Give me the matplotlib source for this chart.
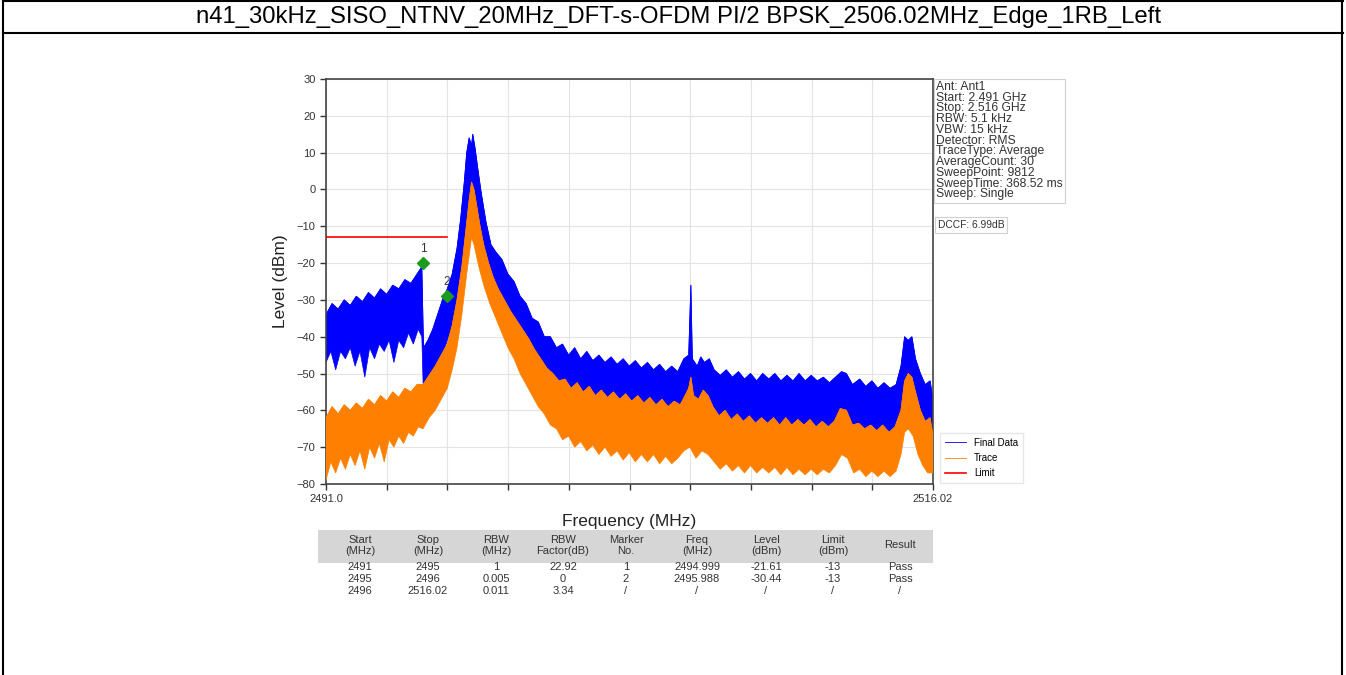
import matplotlib
matplotlib.use('Agg')
import matplotlib.pyplot as plt
from matplotlib.lines import Line2D
import numpy as np

plt.rcParams['font.family'] = ['Liberation Sans', 'DejaVu Sans']

W, H = 1346, 675

TITLE = 'n41_30kHz_SISO_NTNV_20MHz_DFT-s-OFDM PI/2 BPSK_2506.02MHz_Edge_1RB_Left'

# spectrum envelopes, (MHz, dBm) pairs
final_top = [
    (2491.0, -34), (2491.25, -31), (2491.5, -32.5), (2491.75, -30), (2492.0, -31.5),
    (2492.25, -29), (2492.5, -30.5), (2492.75, -28), (2493.0, -29.5), (2493.25, -27),
    (2493.5, -28.5), (2493.75, -26), (2494.0, -27), (2494.25, -24.5), (2494.5, -25.5),
    (2494.75, -23), (2494.95, -21), (2495.02, -43), (2495.2, -41), (2495.4, -38),
    (2495.6, -34), (2495.8, -30), (2496.0, -27), (2496.2, -23), (2496.4, -16),
    (2496.55, -8), (2496.7, 2), (2496.8, 10), (2496.9, 14), (2497.0, 12),
    (2497.05, 15), (2497.15, 11), (2497.25, 6), (2497.4, -1), (2497.6, -9),
    (2497.8, -15), (2498.0, -17), (2498.25, -19), (2498.5, -23), (2498.75, -25),
    (2499.0, -29), (2499.25, -31), (2499.5, -35), (2499.75, -36), (2500.0, -40),
    (2500.25, -40), (2500.5, -43), (2500.75, -42), (2501.0, -45), (2501.25, -43),
    (2501.5, -46), (2501.75, -44), (2502.0, -46.5), (2502.25, -45), (2502.5, -47),
    (2502.75, -45.5), (2503.0, -47.5), (2503.25, -46), (2503.5, -48), (2503.75, -46.5),
    (2504.0, -48.5), (2504.25, -47), (2504.5, -49), (2504.75, -47.5), (2505.0, -49.5),
    (2505.25, -48), (2505.5, -49.5), (2505.75, -46), (2505.95, -45), (2506.04, -26),
    (2506.1, -46), (2506.3, -48), (2506.45, -45.5), (2506.6, -47), (2506.8, -46),
    (2507.0, -49), (2507.25, -50.5), (2507.5, -49), (2507.75, -51), (2508.0, -49.5),
    (2508.25, -51.5), (2508.5, -50), (2508.75, -52), (2509.0, -50), (2509.25, -51.5),
    (2509.5, -50), (2509.75, -52), (2510.0, -50.5), (2510.25, -52), (2510.5, -50),
    (2510.75, -52), (2511.0, -50.5), (2511.25, -52), (2511.5, -51), (2511.75, -52.5),
    (2512.0, -51), (2512.25, -49.5), (2512.45, -50), (2512.7, -53), (2513.0, -51.5),
    (2513.25, -53.5), (2513.5, -52), (2513.75, -54), (2514.0, -52.5), (2514.25, -54),
    (2514.5, -53), (2514.7, -48), (2514.85, -40), (2515.0, -41), (2515.15, -40),
    (2515.3, -46), (2515.5, -50), (2515.7, -53), (2515.9, -52), (2516.02, -57)]

final_bottom = [
    (2491.0, -47), (2491.2, -44), (2491.4, -49), (2491.6, -44), (2491.8, -46),
    (2492.0, -43), (2492.2, -48), (2492.4, -44), (2492.6, -51), (2492.8, -43),
    (2493.0, -46), (2493.2, -42), (2493.4, -44), (2493.6, -41), (2493.8, -47),
    (2494.0, -41), (2494.2, -43), (2494.4, -39), (2494.6, -42), (2494.8, -38),
    (2494.95, -40), (2495.02, -57), (2495.2, -55), (2495.4, -52), (2495.6, -49),
    (2495.8, -45), (2496.0, -41), (2496.2, -37), (2496.4, -31), (2496.6, -22),
    (2496.8, -10), (2497.0, -4), (2497.2, -8), (2497.4, -15), (2497.6, -20),
    (2497.8, -25), (2498.0, -28), (2498.25, -31), (2498.5, -33), (2498.75, -36),
    (2499.0, -39), (2499.25, -41), (2499.5, -44), (2499.75, -46), (2500.0, -48),
    (2500.25, -51), (2500.5, -52), (2500.75, -55), (2501.0, -55), (2501.25, -57),
    (2501.5, -56.5), (2501.75, -59), (2502.0, -57.5), (2502.25, -60), (2502.5, -58),
    (2502.75, -60.5), (2503.0, -58.5), (2503.25, -61), (2503.5, -59), (2503.75, -61.5),
    (2504.0, -59.5), (2504.25, -62), (2504.5, -60), (2504.75, -62), (2505.0, -60.5),
    (2505.25, -62.5), (2505.5, -61), (2505.75, -59), (2506.0, -57), (2506.25, -60),
    (2506.5, -58), (2506.75, -59), (2507.0, -61), (2507.25, -63), (2507.5, -61.5),
    (2507.75, -63.5), (2508.0, -62), (2508.25, -64), (2508.5, -62), (2508.75, -64),
    (2509.0, -62.5), (2509.25, -64.5), (2509.5, -62.5), (2509.75, -64.5), (2510.0, -63),
    (2510.25, -65), (2510.5, -63), (2510.75, -65), (2511.0, -63), (2511.25, -65),
    (2511.5, -63), (2511.75, -64.5), (2512.0, -62.5), (2512.25, -60), (2512.5, -61),
    (2512.75, -64.5), (2513.0, -63.5), (2513.25, -65.5), (2513.5, -64), (2513.75, -66),
    (2514.0, -64.5), (2514.25, -66), (2514.5, -65), (2514.7, -60), (2514.85, -54),
    (2515.0, -55), (2515.2, -54), (2515.4, -60), (2515.6, -64), (2515.8, -66),
    (2516.02, -67)]

trace_top = [
    (2491.0, -62), (2491.25, -59), (2491.5, -61), (2491.75, -58.5), (2492.0, -60),
    (2492.25, -58), (2492.5, -59.5), (2492.75, -57), (2493.0, -58.5), (2493.25, -56),
    (2493.5, -57.5), (2493.75, -55), (2494.0, -56.5), (2494.25, -54), (2494.5, -55),
    (2494.75, -53), (2495.0, -53), (2495.25, -50.5), (2495.5, -48), (2495.75, -45),
    (2496.0, -42), (2496.2, -37), (2496.4, -30), (2496.6, -21), (2496.75, -12),
    (2496.9, -3), (2497.0, 2), (2497.1, 0), (2497.2, -4), (2497.35, -10),
    (2497.5, -15), (2497.7, -20), (2497.9, -24), (2498.1, -27), (2498.35, -30),
    (2498.6, -33), (2498.85, -35.5), (2499.1, -38), (2499.35, -40.5), (2499.6, -43.5),
    (2499.85, -46), (2500.1, -48.5), (2500.35, -50), (2500.6, -52), (2500.85, -51.5),
    (2501.1, -54), (2501.35, -52.5), (2501.6, -55), (2501.85, -53.5), (2502.1, -56),
    (2502.35, -54.5), (2502.6, -56.5), (2502.85, -55), (2503.1, -57), (2503.35, -55.5),
    (2503.6, -57.5), (2503.85, -56), (2504.1, -58), (2504.35, -56.5), (2504.6, -58.5),
    (2504.85, -57), (2505.1, -59), (2505.35, -57.5), (2505.6, -58.5), (2505.8, -56),
    (2505.95, -54), (2506.04, -51), (2506.15, -56), (2506.35, -57), (2506.55, -54.5),
    (2506.75, -56), (2506.95, -59), (2507.2, -61.5), (2507.45, -60), (2507.7, -62.5),
    (2507.95, -61), (2508.2, -63), (2508.45, -61.5), (2508.7, -63.5), (2508.95, -62),
    (2509.2, -63.5), (2509.45, -62), (2509.7, -64), (2509.95, -62), (2510.2, -64),
    (2510.45, -62.5), (2510.7, -64), (2510.95, -62.5), (2511.2, -64.5), (2511.45, -63),
    (2511.7, -64.5), (2511.95, -63), (2512.2, -59.5), (2512.45, -60), (2512.7, -64),
    (2512.95, -63.5), (2513.2, -65), (2513.45, -64), (2513.7, -65.5), (2513.95, -64),
    (2514.2, -66), (2514.45, -64.5), (2514.7, -60), (2514.85, -52), (2515.0, -50),
    (2515.15, -51), (2515.3, -55), (2515.5, -60), (2515.7, -63), (2515.9, -62),
    (2516.02, -67)]

trace_bottom = [
    (2491.0, -79), (2491.2, -74), (2491.4, -77), (2491.6, -73), (2491.8, -76),
    (2492.0, -72), (2492.2, -75), (2492.4, -71), (2492.6, -76), (2492.8, -70),
    (2493.0, -73), (2493.2, -69), (2493.4, -74), (2493.6, -68), (2493.8, -70),
    (2494.0, -67), (2494.2, -69), (2494.4, -66), (2494.6, -67), (2494.8, -64.5),
    (2495.0, -65), (2495.25, -62), (2495.5, -60), (2495.75, -57), (2496.0, -54),
    (2496.2, -49), (2496.4, -43), (2496.6, -34), (2496.8, -23), (2497.0, -13),
    (2497.1, -15), (2497.3, -21), (2497.5, -26), (2497.75, -31), (2498.0, -35),
    (2498.25, -39), (2498.5, -43), (2498.75, -46), (2499.0, -50), (2499.25, -53),
    (2499.5, -56), (2499.75, -59), (2500.0, -61), (2500.25, -64), (2500.5, -65),
    (2500.75, -68), (2501.0, -67), (2501.25, -70), (2501.5, -68.5), (2501.75, -71),
    (2502.0, -69.5), (2502.25, -72), (2502.5, -70), (2502.75, -72.5), (2503.0, -71),
    (2503.25, -73.5), (2503.5, -71.5), (2503.75, -74), (2504.0, -72), (2504.25, -74),
    (2504.5, -72), (2504.75, -74.5), (2505.0, -72.5), (2505.25, -74.5), (2505.5, -73),
    (2505.75, -71), (2506.0, -70), (2506.25, -73), (2506.5, -71), (2506.75, -72),
    (2507.0, -74), (2507.25, -76), (2507.5, -74.5), (2507.75, -76.5), (2508.0, -75),
    (2508.25, -77), (2508.5, -75), (2508.75, -77), (2509.0, -75.5), (2509.25, -77),
    (2509.5, -75.5), (2509.75, -77.5), (2510.0, -75.5), (2510.25, -77.5), (2510.5, -76),
    (2510.75, -77.5), (2511.0, -76), (2511.25, -77.5), (2511.5, -76), (2511.75, -77),
    (2512.0, -75), (2512.25, -72), (2512.5, -73), (2512.75, -77), (2513.0, -76),
    (2513.25, -78), (2513.5, -76.5), (2513.75, -78), (2514.0, -76.5), (2514.25, -78),
    (2514.5, -76.5), (2514.7, -72), (2514.85, -66), (2515.0, -65), (2515.2, -67),
    (2515.4, -72), (2515.6, -75), (2515.8, -77), (2516.02, -77)]

limit_freq = [2491, 2495, 2496]
limit_level = [-13, -13, -13]

marker_freq = [2494.999, 2495.988]
marker_level = [-20, -29]
marker_names = ['1', '2']

info_lines = ['Ant: Ant1', 'Start: 2.491 GHz', 'Stop: 2.516 GHz', 'RBW: 5.1 kHz',
              'VBW: 15 kHz', 'Detector: RMS', 'TraceType: Average', 'AverageCount: 30',
              'SweepPoint: 9812', 'SweepTime: 368.52 ms', 'Sweep: Single']
dccf = 'DCCF: 6.99dB'

# result table
table_headers = ['Start\n(MHz)', 'Stop\n(MHz)', 'RBW\n(MHz)', 'RBW\nFactor(dB)', 'Marker\nNo.',
                 'Freq\n(MHz)', 'Level\n(dBm)', 'Limit\n(dBm)', 'Result']
col_start = ['2491', '2495', '2496']
col_stop = ['2495', '2496', '2516.02']
col_rbw = ['1', '0.005', '0.011']
col_factor = ['22.92', '0', '3.34']
col_marker = ['1', '2', '/']
col_freq = ['2494.999', '2495.988', '/']
col_level = ['-21.61', '-30.44', '/']
col_limit = ['-13', '-13', '/']
col_result = ['Pass', 'Pass', '/']

BLUE = '#0000FF'
ORANGE = '#FF8000'
RED = '#FF0000'


def fx(px):
    return px / W


def fy(py):
    return 1 - py / H


def band(ax, top, bottom, color, label, z):
    t = np.array(top)
    b = np.array(bottom)[::-1]
    ax.fill(np.r_[t[:, 0], b[:, 0]], np.r_[t[:, 1], b[:, 1]], color=color, lw=0.5, zorder=z)
    ax.plot(t[:, 0], t[:, 1], color=color, lw=0.6, zorder=z, label=label)


fig = plt.figure(figsize=(W / 100, H / 100), dpi=100)

# outer frame of the report cell
for xs, ys in [([3, 1343], [1, 1]), ([3, 1343], [33, 33]), ([3, 3], [0, 675]), ([1342, 1342], [0, 675])]:
    fig.add_artist(Line2D([fx(x) for x in xs], [fy(y) for y in ys], transform=fig.transFigure,
                          color='black', lw=1.5))
fig.text(fx(679), fy(17), TITLE, fontsize=17.2, ha='center', va='center')

ax = fig.add_axes([fx(326), fy(484), fx(933) - fx(326), fy(79) - fy(484)])

band(ax, final_top, final_bottom, BLUE, 'Final Data', 2)
band(ax, trace_top, trace_bottom, ORANGE, 'Trace', 3)
ax.plot(limit_freq, limit_level, color=RED, lw=1.2, label='Limit', zorder=4)

ax.plot(marker_freq, marker_level, 'D', color='#1E9B1E', markersize=6, zorder=5)
for f, lv, name in zip(marker_freq, marker_level, marker_names):
    ax.text(f, lv + 2.2, name, fontsize=8.5, ha='center', va='bottom', color='#333333')

ax.set_xlim(2491, 2516.02)
ax.set_ylim(-80, 30)
ticks = np.linspace(2491, 2516.02, 11)
ax.set_xticks(ticks)
ax.set_xticklabels(['2491.0'] + [''] * 9 + ['2516.02'])
ax.set_yticks(range(-80, 31, 10))
ax.tick_params(direction='out', length=4, width=1, labelsize=8, colors='#333333')
ax.grid(True, color='#E4E4E4', lw=0.8)
ax.set_axisbelow(True)
for sp in ax.spines.values():
    sp.set_color('#444444')
    sp.set_linewidth(1.2)

ax.set_xlabel('Frequency (MHz)', fontsize=12.5, labelpad=7, color='#222222')
ax.set_ylabel('Level (dBm)', fontsize=12.5, labelpad=6, color='#222222')

# analyzer settings box
fig.text(fx(936), fy(81), '\n'.join(info_lines), fontsize=8.7, va='top', ha='left',
         linespacing=0.86, color='#333333',
         bbox=dict(boxstyle='square,pad=0.2', fc='white', ec='#D0D0D0', lw=0.8))
fig.text(fx(938), fy(225), dccf, fontsize=7.4, va='center', ha='left', color='#333333',
         bbox=dict(boxstyle='square,pad=0.25', fc='white', ec='#D0D0D0', lw=0.8))

fig.legend(loc='lower left', bbox_to_anchor=(fx(935), fy(488)), fontsize=7,
           handlelength=2.2, labelspacing=0.55, frameon=True, fancybox=False,
           edgecolor='#E0E0E0', borderpad=0.5)

# result table
col_x = [360, 428, 496, 563, 626, 697, 766, 833, 900]
columns = [col_start, col_stop, col_rbw, col_factor, col_marker, col_freq, col_level, col_limit, col_result]
fig.patches.append(plt.Rectangle((fx(318), fy(563)), fx(933) - fx(318), fy(530) - fy(563),
                                 transform=fig.transFigure, fc='#D6D6D6', ec='none'))
row_y = [567, 579, 591]
for cx, head, col in zip(col_x, table_headers, columns):
    fig.text(fx(cx), fy(545.5), head, fontsize=8, ha='center', va='center',
             linespacing=1.05, color='#333333')
    for ry, val in zip(row_y, col):
        fig.text(fx(cx), fy(ry), val, fontsize=8, ha='center', va='center', color='#333333')

fig.savefig('out.png', dpi=100)
